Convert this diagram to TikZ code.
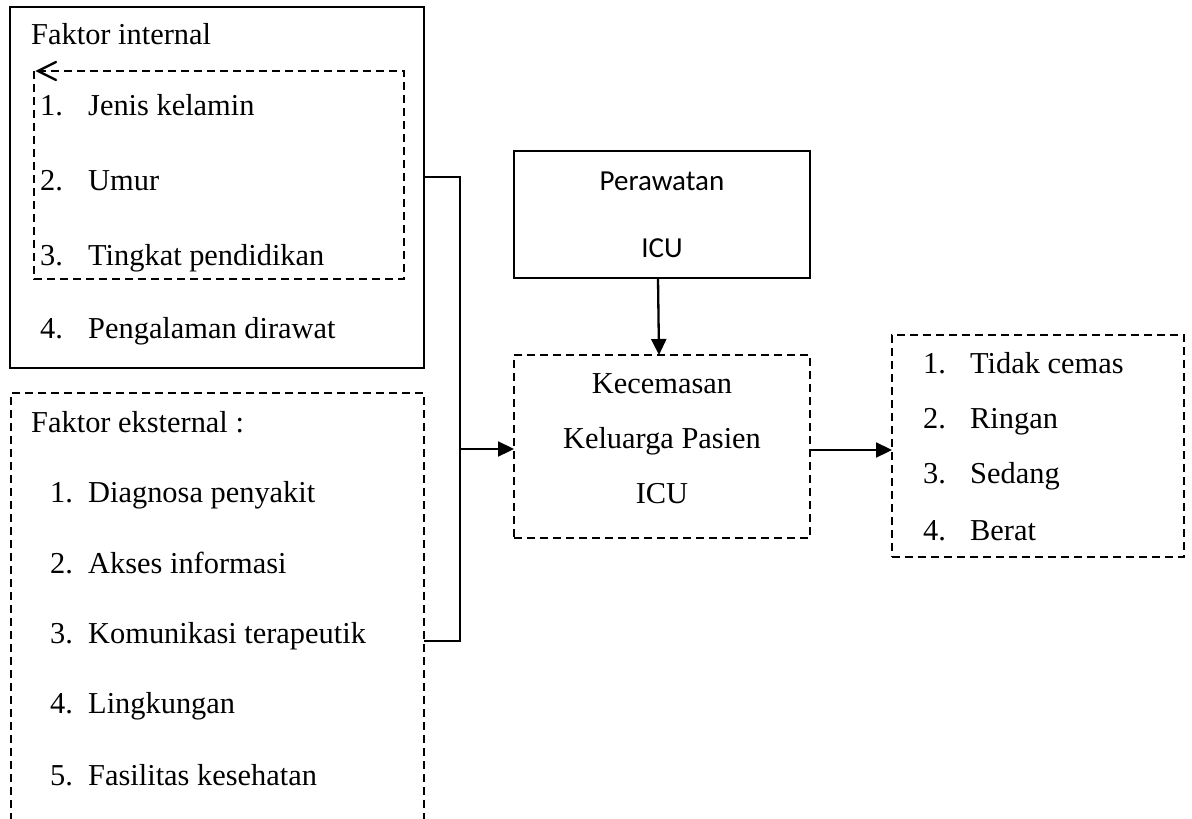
\documentclass[tikz,border=0pt]{standalone}
\usepackage{fontspec}
\setmainfont{Liberation Serif}
\newfontfamily\calib{Carlito}
\usetikzlibrary{arrows.meta}
\begin{document}
\begin{tikzpicture}[x=1pt,y=-1pt,
  frame/.style={draw,line width=2.3pt,rectangle,outer sep=0pt,inner sep=0pt,anchor=north west},
  dframe/.style={frame,dash pattern=on 8pt off 5pt},
  dashline/.style={line width=2.3pt,dash pattern=on 8pt off 5pt},
  txt/.style={anchor=base west,inner sep=0pt,font=\fontsize{30.4}{36}\selectfont},
  ctxt/.style={anchor=base,inner sep=0pt,font=\fontsize{30.4}{36}\selectfont},
  stxt/.style={anchor=base,inner sep=0pt,font=\calib\fontsize{29}{34}\selectfont},
  conn/.style={line width=2.3pt},
  arr/.style={conn,-{Triangle[length=16pt,width=15pt]}}]
\clip (0,0) rectangle (1192,819);
\fill[white] (0,0) rectangle (1192,819);
% boxes
\node[frame,minimum width=414pt,minimum height=361pt] (int) at (10,7) {};
\node[frame,draw=none,minimum width=370pt,minimum height=208pt] (inner) at (34,71) {};
\node[dframe,minimum width=413pt,minimum height=470pt] (ext) at (11,393) {};
\node[frame,minimum width=296pt,minimum height=127pt] (per) at (514,151) {};
\node[dframe,minimum width=296pt,minimum height=183pt] (kec) at (514,355) {};
\node[dframe,minimum width=292pt,minimum height=222pt] (res) at (892,335) {};
% inner dashed box with arrow on top edge
\coordinate (tip) at ([xshift=4pt]inner.north west);
\draw[dashline] (inner.north west) -- (inner.south west) -- (inner.south east) -- (inner.north east) -- (tip);
\draw[conn,line cap=round,line join=miter] ([shift={(18,-9)}]tip) -- (tip) -- ([shift={(18,9)}]tip);
% internal texts
\node[txt] (ti) at (31,45) {Faktor internal};
\node[txt] (i1n) at (40,115) {1.};
\node[txt] (i1) at (88,115) {Jenis kelamin};
\node[txt] (i2n) at (40,190) {2.};
\node[txt] (i2) at (88,190) {Umur};
\node[txt] (i3n) at (40,265) {3.};
\node[txt] (i3) at (88,265) {Tingkat pendidikan};
\node[txt] (i4n) at (40,338) {4.};
\node[txt] (i4) at (88,338) {Pengalaman dirawat};
% external texts
\node[txt] (te) at (31,432) {Faktor eksternal :};
\node[txt] (e1n) at (50,502) {1.};
\node[txt] (e1) at (88,502) {Diagnosa penyakit};
\node[txt] (e2n) at (50,573) {2.};
\node[txt] (e2) at (88,573) {Akses informasi};
\node[txt] (e3n) at (50,643) {3.};
\node[txt] (e3) at (88,643) {Komunikasi terapeutik};
\node[txt] (e4n) at (50,713) {4.};
\node[txt] (e4) at (88,713) {Lingkungan};
\node[txt] (e5n) at (50,785) {5.};
\node[txt] (e5) at (88,785) {Fasilitas kesehatan};
% perawatan
\node[stxt] (p1) at (662,190) {Perawatan};
\node[stxt] (p2) at (662,257) {ICU};
% kecemasan
\node[ctxt] (k1) at (662,393) {Kecemasan};
\node[ctxt] (k2) at (662,448) {Keluarga Pasien};
\node[ctxt] (k3) at (662,503) {ICU};
% result
\node[txt] (r1n) at (923,373) {1.};
\node[txt] (r1) at (970,373) {Tidak cemas};
\node[txt] (r2n) at (923,428) {2.};
\node[txt] (r2) at (970,428) {Ringan};
\node[txt] (r3n) at (923,483) {3.};
\node[txt] (r3) at (970,483) {Sedang};
\node[txt] (r4n) at (923,540) {4.};
\node[txt] (r4) at (970,540) {Berat};
% connectors
\coordinate (j1) at (460,177);
\coordinate (j2) at (460,641);
\coordinate (j3) at (460,449);
\coordinate (j4) at (851,450);
\draw[conn] (int.east |- j1) -- (j1) -- (j2) -- (ext.east |- j2);
\draw[arr] (j3) -- (kec.west |- j3);
\draw[arr] (kec.east |- j4) -- (res.west |- j4);
\draw[arr] ([xshift=-4pt]per.south) -- ([xshift=-3pt]kec.north);
\end{tikzpicture}
\end{document}
